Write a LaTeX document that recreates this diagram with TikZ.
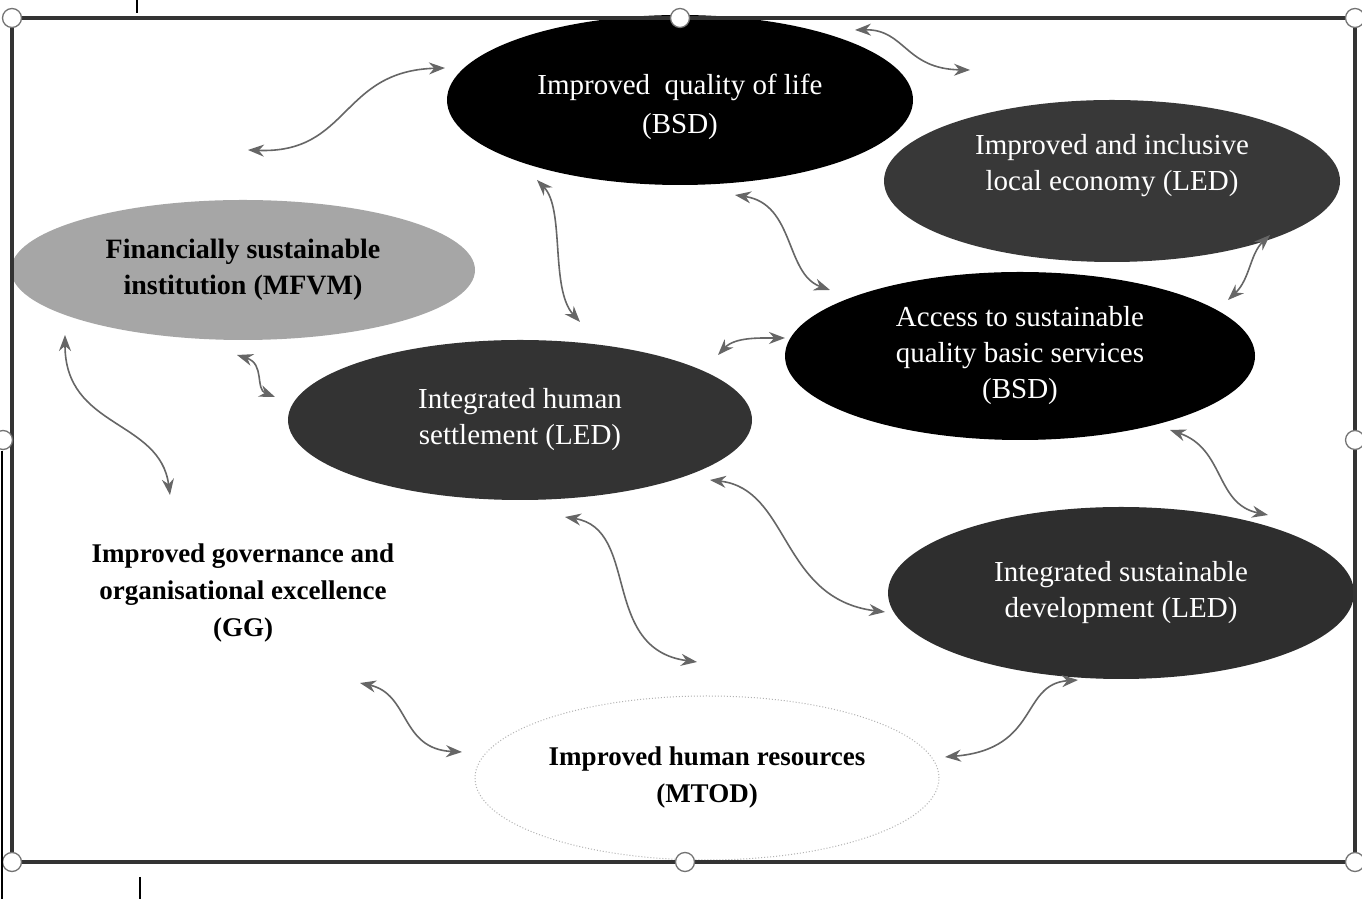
\documentclass[tikz,border=0pt]{standalone}
\usepackage{fontspec}
\setmainfont{Liberation Serif}
\usetikzlibrary{arrows.meta,shapes.geometric}
\begin{document}
\begin{tikzpicture}[x=1pt,y=1pt,
  oval/.style={ellipse, inner sep=0pt, align=center, font=\fontsize{29}{36}\selectfont},
  darkoval/.style={oval, fill=#1, text=white},
  boldtext/.style={font=\fontsize{27}{37}\selectfont\bfseries},
  link/.style={arrows={Stealth[length=16pt,width=12pt]-Stealth[length=16pt,width=12pt]}, draw=black!60, line width=1.6pt},
  handle/.style={circle, draw=black!55, fill=white, line width=1.3pt, minimum size=19pt, inner sep=0pt},
  frameline/.style={draw=black!80, line width=3.2pt}
]
\useasboundingbox (0,0) rectangle (1362,899);
\fill[white] (0,0) rectangle (1362,899);

% ellipses
\node[darkoval=black, minimum width=466pt, minimum height=170pt] (Q) at (680,799) {};
\node[text=white, align=center, font=\fontsize{29}{39}\selectfont] (Qt) at (Q.center) [yshift=-7pt] {Improved\ \ quality of life\\(BSD)};
\node[darkoval=black!78, minimum width=456pt, minimum height=162pt, text depth=37pt] (E) at (1112,718) {Improved and inclusive\\local economy (LED)};
\node[oval, fill=black!35, minimum width=464pt, minimum height=140pt, font=\fontsize{28}{36}\selectfont\bfseries] (F) at (243,629) {Financially sustainable\\institution (MFVM)};
\node[darkoval=black, minimum width=470pt, minimum height=168pt] (A) at (1020,543) {Access to sustainable\\quality basic services\\(BSD)};
\node[darkoval=black!80, minimum width=464pt, minimum height=160pt] (H) at (520,479) {Integrated human\\settlement (LED)};
\node[darkoval=black!82, minimum width=466pt, minimum height=172pt] (S) at (1121,306) {Integrated sustainable\\development (LED)};
\node[oval, draw=black!30, dotted, line width=1pt, fill=white, minimum width=464pt, minimum height=164pt, boldtext] (R) at (707,121) {Improved human resources\\(MTOD)};
\node[align=center, boldtext] (G) at (243,306) {Improved governance and\\organisational excellence\\(GG)};

% connector end points
\coordinate (f1) at (248,749); \coordinate (q1) at (445,831);
\coordinate (q2) at (855,869); \coordinate (e2) at (970,829);
\coordinate (q3) at (537,719); \coordinate (h3) at (580,577);
\coordinate (q4) at (735,704); \coordinate (a4) at (830,609);
\coordinate (e5) at (1270,664); \coordinate (a5) at (1228,599);
\coordinate (h6) at (718,544); \coordinate (a6) at (785,561);
\coordinate (f7) at (237,544); \coordinate (h7) at (275,502);
\coordinate (f8) at (65,564); \coordinate (g8) at (170,404);
\coordinate (h9) at (710,419); \coordinate (s9) at (885,287);
\coordinate (h10) at (565,382); \coordinate (r10) at (697,237);
\coordinate (a11) at (1170,469); \coordinate (s11) at (1268,384);
\coordinate (g12) at (360,216); \coordinate (r12) at (462,147);
\coordinate (s13) at (1078,219); \coordinate (r13) at (945,142);

% connectors
\draw[link] (f1) .. controls (350,745) and (340,828) .. (q1);
\draw[link] (q2) .. controls (905,870) and (905,830) .. (e2);
\draw[link] (q3) .. controls (565,690) and (550,610) .. (h3);
\draw[link] (q4) .. controls (795,695) and (785,625) .. (a4);
\draw[link] (e5) .. controls (1250,645) and (1250,620) .. (a5);
\draw[link] (h6) .. controls (735,562) and (760,561) .. (a6);
\draw[link] (f7) .. controls (265,535) and (255,510) .. (h7);
\draw[link] (f8) .. controls (65,470) and (160,480) .. (g8);
\draw[link] (h9) .. controls (790,410) and (780,300) .. (s9);
\draw[link] (h10) .. controls (640,370) and (600,250) .. (r10);
\draw[link] (a11) .. controls (1225,450) and (1215,395) .. (s11);
\draw[link] (g12) .. controls (410,205) and (400,150) .. (r12);
\draw[link] (s13) .. controls (1020,215) and (1040,150) .. (r13);

% frame
\draw[frameline] (12,37) rectangle (1355,881);
\node[handle] (h-tl) at (12,881) {};
\node[handle] (h-tm) at (680,881) {};
\node[handle] (h-tr) at (1355,881) {};
\node[handle] (h-mr) at (1355,459) {};
\node[handle] (h-ml) at (3,459) {};
\node[handle] (h-bl) at (12,37) {};
\node[handle] (h-bm) at (685,37) {};
\node[handle] (h-br) at (1355,37) {};

% scan marks
\draw[line width=2pt] (137,899) -- (137,886);
\draw[line width=2pt] (140,22) -- (140,0);
\draw[line width=1.5pt] (2,448) -- (2,0);
\end{tikzpicture}
\end{document}
